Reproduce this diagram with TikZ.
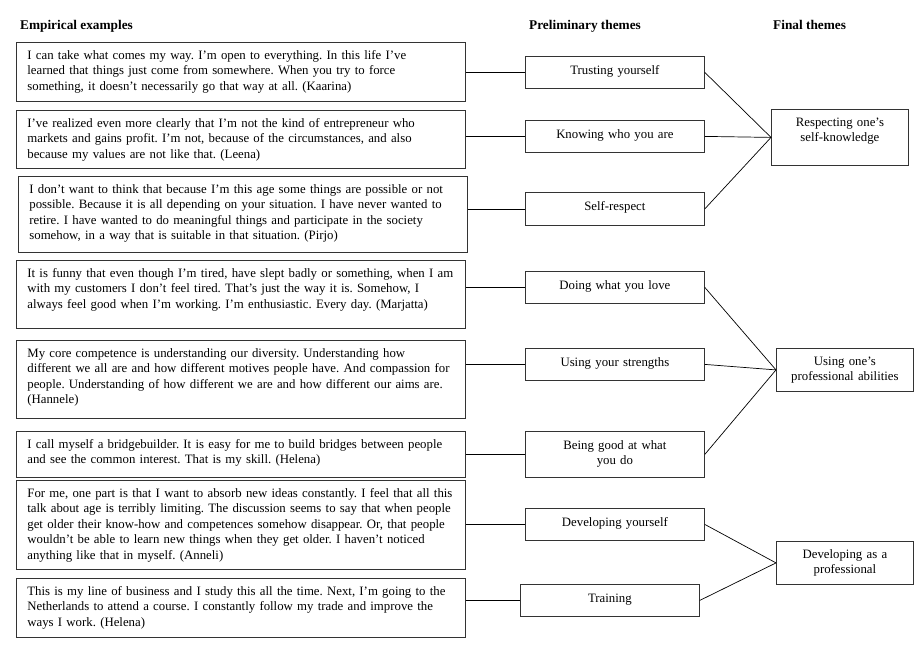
\documentclass[tikz,border=0pt]{standalone}
\usepackage{fontspec}
\setmainfont{Liberation Serif}
\usepackage{tikz}
\usetikzlibrary{positioning}
\frenchspacing

\begin{document}
\begin{tikzpicture}[
    x=1pt, y=-1pt,
    every node/.style={font=\fontsize{12.8}{15.5}\selectfont},
    heading/.style={anchor=base west, inner sep=0pt, font=\fontsize{13.3}{15.5}\selectfont\bfseries},
    quote/.style={rectangle, draw=black!80, line width=0.8pt, anchor=north west, text width=427pt, align=left, inner xsep=11pt, inner ysep=6pt, text height=11pt, text depth=#1},
    theme/.style={rectangle, draw=black!80, line width=0.8pt, anchor=north west, text width=175pt, align=center, inner xsep=2pt, inner ysep=2pt, text height=16pt, text depth=#1},
    final/.style={rectangle, draw=black!80, line width=0.8pt, anchor=north west, text width=133pt, align=center, inner xsep=2pt, inner ysep=2pt, text height=15pt, text depth=#1},
    link/.style={line width=0.7pt}
]
\useasboundingbox (0,0) rectangle (921,654);

% ==================== HEADINGS ====================
\node[heading] (hemp) at (20,29) {Empirical examples};
\node[heading] (hpre) at (529,29) {Preliminary themes};
\node[heading] (hfin) at (773,29) {Final themes};

% ==================== EMPIRICAL EXAMPLES (Left) ====================
\node[quote=36pt] (q1) at (16,42) {I can take what comes my way. I’m open to everything. In this life I’ve\\learned that things just come from somewhere. When you try to force\\something, it doesn’t necessarily go that way at all. (Kaarina)};
\node[quote=35pt] (q2) at (16,110) {I’ve realized even more clearly that I’m not the kind of entrepreneur who\\markets and gains profit. I’m not, because of the circumstances, and also\\because my values are not like that. (Leena)};
\node[quote=53pt] (q3) at (18,176) {I don’t want to think that because I’m this age some things are possible or not\\possible. Because it is all depending on your situation. I have never wanted to\\retire. I have wanted to do meaningful things and participate in the society\\somehow, in a way that is suitable in that situation. (Pirjo)};
\node[quote=45pt] (q4) at (16,260) {It is funny that even though I’m tired, have slept badly or something, when I am\\with my customers I don’t feel tired. That’s just the way it is. Somehow, I\\always feel good when I’m working. I’m enthusiastic. Every day. (Marjatta)};
\node[quote=55pt] (q5) at (16,340) {My core competence is understanding our diversity. Understanding how\\different we all are and how different motives people have. And compassion for\\people. Understanding of how different we are and how different our aims are.\\(Hannele)};
\node[quote=23pt] (q6) at (16,431) {I call myself a bridgebuilder. It is easy for me to build bridges between people\\and see the common interest. That is my skill. (Helena)};
\node[quote=66pt] (q7) at (16,480) {For me, one part is that I want to absorb new ideas constantly. I feel that all this\\talk about age is terribly limiting. The discussion seems to say that when people\\get older their know-how and competences somehow disappear. Or, that people\\wouldn’t be able to learn new things when they get older. I haven’t noticed\\anything like that in myself. (Anneli)};
\node[quote=36pt] (q8) at (16,578) {This is my line of business and I study this all the time. Next, I’m going to the\\Netherlands to attend a course. I constantly follow my trade and improve the\\ways I work. (Helena)};

% ==================== PRELIMINARY THEMES (Middle) ====================
\node[theme=12pt] (trust) at (525,56) {Trusting yourself};
\node[theme=12pt] (know) at (525,120) {Knowing who you are};
\node[theme=13pt] (selfres) at (525,192) {Self-respect};
\node[theme=12pt] (love) at (525,271) {Doing what you love};
\node[theme=12pt] (strength) at (525,348) {Using your strengths};
\node[theme=26pt] (good) at (525,431) {Being good at what\\you do};
\node[theme=12pt] (develop) at (525,508) {Developing yourself};
\node[theme=12pt] (train) at (520,584) {Training};

% ==================== FINAL THEMES (Right) ====================
\node[final=37pt] (respect) at (771,109) {Respecting one’s\\self-knowledge};
\node[final=24pt] (ability) at (776,348) {Using one’s\\professional abilities};
\node[final=24pt] (growth) at (776,541) {Developing as a\\professional};

% ==================== CONNECTORS ====================
% examples to preliminary themes
\draw[link] (trust.west) -- (trust.west -| q1.east);
\draw[link] (know.west) -- (know.west -| q2.east);
\draw[link] (selfres.west) -- (selfres.west -| q3.east);
\draw[link] (love.west) -- (love.west -| q4.east);
\draw[link] (strength.west) -- (strength.west -| q5.east);
\draw[link] (good.west) -- (good.west -| q6.east);
\draw[link] (develop.west) -- (develop.west -| q7.east);
\draw[link] (train.west) -- (train.west -| q8.east);

% preliminary themes to final themes
\draw[link] (trust.east) -- (respect.west);
\draw[link] (know.east) -- (respect.west);
\draw[link] (selfres.east) -- (respect.west);
\draw[link] (love.east) -- (ability.west);
\draw[link] (strength.east) -- (ability.west);
\draw[link] (good.east) -- (ability.west);
\draw[link] (develop.east) -- (growth.west);
\draw[link] (train.east) -- (growth.west);

\end{tikzpicture}
\end{document}
